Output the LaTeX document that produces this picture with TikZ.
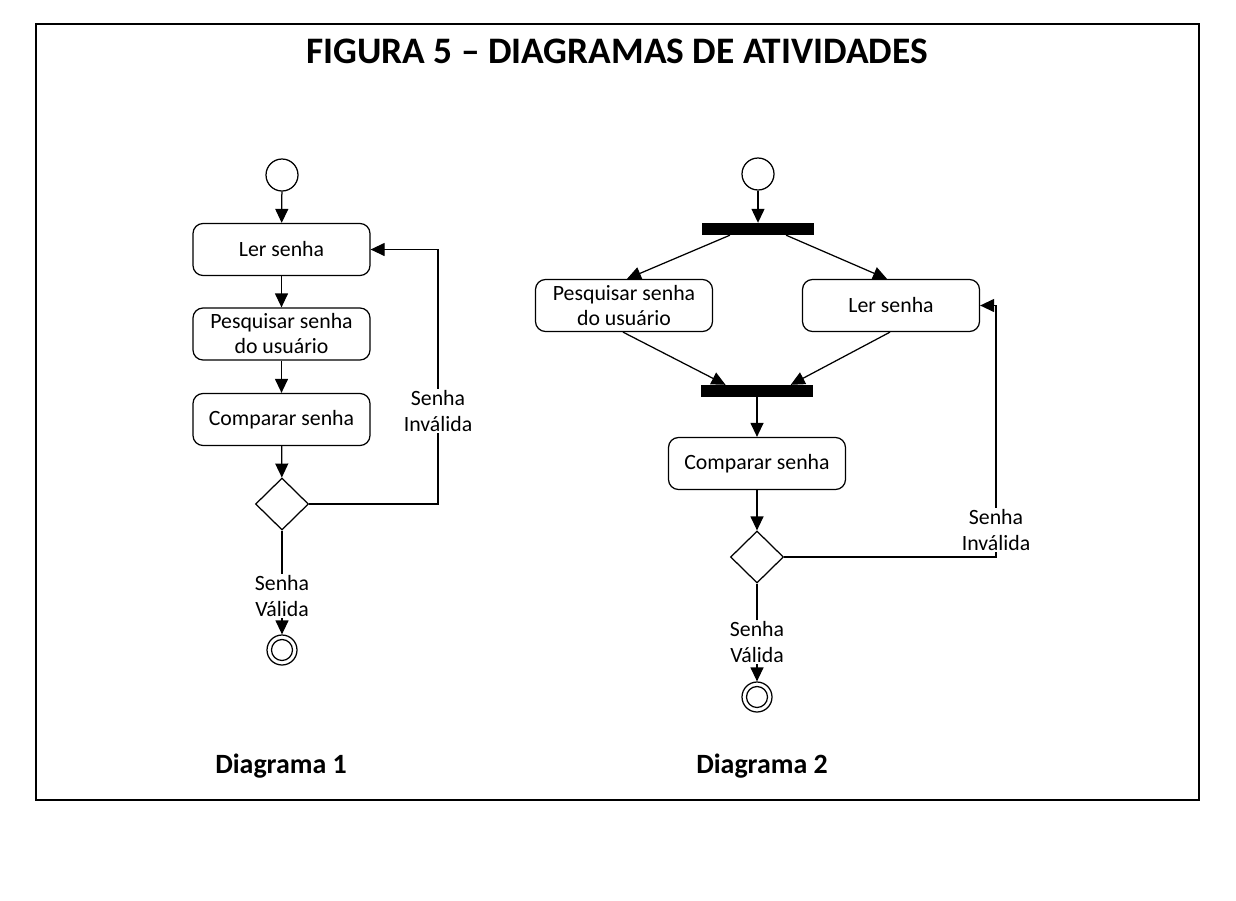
\documentclass[tikz,border=0pt]{standalone}
\usepackage{fontspec}
\setmainfont{Carlito}
\usetikzlibrary{shapes.geometric,arrows.meta,calc}
\begin{document}
\begin{tikzpicture}[x=1pt,y=-1pt,
  ln/.style={line width=1.25pt},
  arr/.style={ln,-{Triangle[length=14pt,width=13pt]}},
  act/.style={draw,ln,rounded corners=10pt,minimum width=177pt,minimum height=52pt,align=center,inner sep=0pt,font=\fontsize{21.8}{25}\selectfont},
  startnode/.style={draw,ln,circle,minimum size=32pt,inner sep=0pt},
  finalnode/.style={draw,ln,circle,minimum size=30pt,inner sep=0pt},
  barnode/.style={fill=black,minimum width=112pt,minimum height=12pt,inner sep=0pt},
  decnode/.style={draw,ln,diamond,minimum width=53pt,minimum height=52pt,inner sep=0pt},
  lbl/.style={fill=white,align=center,inner sep=1pt,font=\fontsize{21.8}{26.5}\selectfont},
  captext/.style={font=\fontsize{27.9}{32}\selectfont\bfseries}
]
\useasboundingbox (0,0) rectangle (1236,900);
\fill[white] (0,0) rectangle (1236,900);
\draw[line width=1.5pt] (36,24) rectangle (1199,800);
\node[font=\fontsize{37.4}{40}\selectfont\bfseries] (title) at (617,51.5) {FIGURA 5 – DIAGRAMAS DE ATIVIDADES};

% Diagram 1
\node[startnode] (s1) at (282,175) {};
\node[act] (ler1) at (281.5,249.5) {Ler senha};
\node[act] (pes1) at (281.5,334) {Pesquisar senha\\do usuário};
\node[act] (comp1) at (281.5,419.5) {Comparar senha};
\node[decnode] (dec1) at (282,504) {};
\node[lbl] (val1) at (282,596) {Senha\\Válida};
\node[finalnode] (f1) at (282,650) {};
\draw[ln] (f1.center) circle (10.5pt);
\node[lbl] (inv1) at (438,411) {Senha\\Inválida};
\draw[arr] (s1) -- (ler1);
\draw[arr] (ler1) -- (pes1);
\draw[arr] (pes1) -- (comp1);
\draw[arr] (comp1) -- (dec1);
\draw[ln] (dec1.south) -- (val1.north);
\draw[arr] (val1.south) -- (f1.north);
\draw[ln] (dec1.east) -| (inv1.south);
\draw[arr] (inv1.north) |- (ler1.east);
\node[captext] (d1) at (281,766) {Diagrama 1};

% Diagram 2
\node[startnode] (s2) at (758,174) {};
\node[barnode] (fork) at (758,229) {};
\node[act] (pes2) at (624,305.5) {Pesquisar senha\\do usuário};
\node[act] (ler2) at (891,305.5) {Ler senha};
\node[barnode] (join) at (757,391) {};
\node[act] (comp2) at (757,463.5) {Comparar senha};
\node[decnode] (dec2) at (757,557) {};
\node[lbl] (val2) at (757,642) {Senha\\Válida};
\node[finalnode] (f2) at (757,697) {};
\draw[ln] (f2.center) circle (10.5pt);
\node[lbl] (inv2) at (996,530) {Senha\\Inválida};
\draw[arr] (s2) -- (fork);
\draw[arr] ($(fork.south west)!0.25!(fork.south east)$) -- ($(pes2.north)+(3,0)$);
\draw[arr] ($(fork.south west)!0.75!(fork.south east)$) -- ($(ler2.north)+(-4,0)$);
\draw[arr] ($(pes2.south)+(-1,0)$) -- ($(join.north west)!0.22!(join.north east)$);
\draw[arr] ($(ler2.south)+(-1,0)$) -- ($(join.north west)!0.8!(join.north east)$);
\draw[arr] (join) -- (comp2);
\draw[arr] (comp2) -- (dec2);
\draw[ln] (dec2.south) -- (val2.north);
\draw[arr] (val2.south) -- (f2.north);
\draw[ln] (dec2.east) -| (inv2.south);
\draw[arr] (inv2.north) |- (ler2.east);
\node[captext] (d2) at (762,766) {Diagrama 2};
\end{tikzpicture}
\end{document}
